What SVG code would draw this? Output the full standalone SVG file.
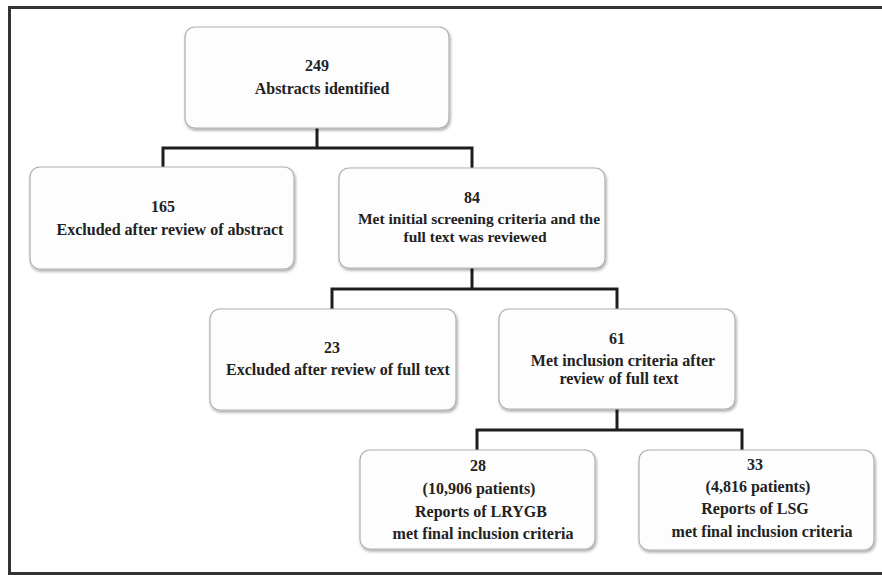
<svg xmlns="http://www.w3.org/2000/svg" width="882" height="575" viewBox="0 0 882 575">
<defs>
<filter id="sh" x="-10%" y="-10%" width="120%" height="130%">
<feDropShadow dx="1" dy="2" stdDeviation="1.5" flood-color="#000" flood-opacity="0.35"/>
</filter>
<style>
.box{fill:#fdfdfd;stroke:#b0b0b0;stroke-width:1.2;filter:url(#sh)}
.t{font-family:"Liberation Serif","Times New Roman",serif;font-weight:bold;font-size:16px;fill:#222;text-anchor:middle}
.s{font-size:15.5px}
.c{fill:none;stroke:#1e1e1e;stroke-width:3;stroke-linejoin:miter}
.frame{fill:none;stroke:#333;stroke-width:3}
</style>
</defs>
<rect width="882" height="575" fill="#fff"/>
<path class="frame" d="M882,7.5 H9.5 V573.5 H882"/>
<g id="connectors">
<path class="c" d="M317,128 V148 M163,167 V148 H472 V168"/>
<path class="c" d="M472,268 V289 M332,309 V289 H617 V309"/>
<path class="c" d="M617,409 V430 M477,450 V430 H742 V450"/>
</g>
<g id="n249">
<rect class="box" x="185" y="27" width="264" height="101" rx="10"/>
<text class="t" x="317" y="71">249</text>
<text class="t" x="322" y="94">Abstracts identified</text>
</g>
<g id="n165">
<rect class="box" x="30" y="167" width="264" height="102" rx="10"/>
<text class="t" x="163" y="212">165</text>
<text class="t" x="170" y="235">Excluded after review of abstract</text>
</g>
<g id="n84">
<rect class="box" x="339" y="168" width="266" height="100" rx="10"/>
<text class="t" x="472" y="203">84</text>
<text class="t s" x="479" y="224">Met initial screening criteria and the</text>
<text class="t s" x="475" y="242">full text was reviewed</text>
</g>
<g id="n23">
<rect class="box" x="210" y="309" width="246" height="101" rx="10"/>
<text class="t" x="332" y="353">23</text>
<text class="t" x="338" y="375">Excluded after review of full text</text>
</g>
<g id="n61">
<rect class="box" x="499" y="309" width="236" height="100" rx="10"/>
<text class="t" x="617" y="344">61</text>
<text class="t" x="623" y="366">Met inclusion criteria after</text>
<text class="t" x="619" y="384">review of full text</text>
</g>
<g id="n28">
<rect class="box" x="360" y="450" width="235" height="99" rx="10"/>
<text class="t" x="478" y="471">28</text>
<text class="t" x="479" y="494">(10,906 patients)</text>
<text class="t" x="481" y="517">Reports of LRYGB</text>
<text class="t" x="483" y="539">met final inclusion criteria</text>
</g>
<g id="n33">
<rect class="box" x="639" y="450" width="235" height="100" rx="10"/>
<text class="t" x="755" y="470">33</text>
<text class="t" x="758" y="492">(4,816 patients)</text>
<text class="t" x="755" y="514">Reports of LSG</text>
<text class="t" x="762" y="537">met final inclusion criteria</text>
</g>
</svg>
